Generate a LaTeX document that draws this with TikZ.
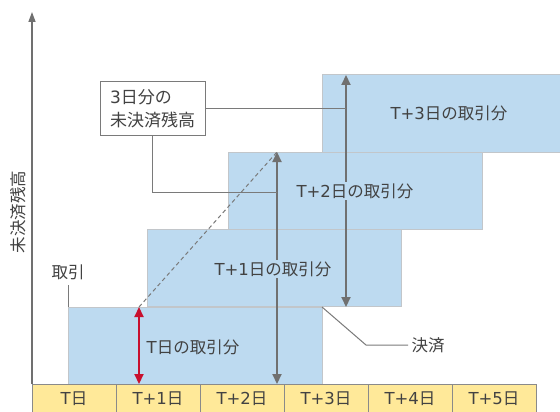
\documentclass[tikz,border=0pt]{standalone}
\usepackage{fontspec}
\setmainfont{Noto Sans CJK JP}
\newfontfamily\latf{DejaVu Sans}
\newcommand\Lt[1]{{\latf #1}}
\usetikzlibrary{arrows.meta}
\definecolor{blk}{HTML}{BDDAF0}
\definecolor{blkline}{HTML}{C2C6CA}
\definecolor{tyel}{HTML}{FFE999}
\definecolor{tline}{HTML}{8A8A8A}
\definecolor{garr}{HTML}{707070}
\definecolor{rarr}{HTML}{C8102E}
\definecolor{txt}{HTML}{424242}
\definecolor{leadc}{HTML}{7A7A7A}
\begin{document}
\begin{tikzpicture}[x=1pt,y=-1pt,
  every node/.style={text=txt, font=\fontsize{16.5}{20}\selectfont},
  block/.style={draw=blkline, fill=blk, line width=1pt, minimum width=254pt, minimum height=77pt, inner sep=0pt, outer sep=0pt},
  blabel/.style={fill=blk, inner sep=1.5pt},
  cell/.style={draw=tline, fill=tyel, line width=1pt, minimum width=84pt, minimum height=30pt, inner sep=0pt, outer sep=0pt},
  garrow/.style={draw=garr, line width=2.2pt, {Triangle[length=10pt,width=9pt]}-{Triangle[length=10pt,width=9pt]}},
  rarrow/.style={draw=rarr, line width=2.2pt, {Triangle[length=10pt,width=9pt]}-{Triangle[length=10pt,width=9pt]}},
  lead/.style={draw=leadc, line width=1pt},
  dline/.style={draw=leadc, line width=1pt, dash pattern=on 4pt off 3pt},
  axisline/.style={draw=garr, line width=1.3pt, -{Triangle[length=10pt,width=7pt]}},
  lbox/.style={draw=leadc, fill=white, line width=1pt, minimum width=105pt, minimum height=53pt, align=left, inner sep=0pt, font=\fontsize{17}{23}\selectfont}
]
\clip (0,0) rectangle (560,412);
\fill[white] (0,0) rectangle (560,412);

% blocks
\node[block] (b0) at (195,345.5) {};
\node[block] (b1) at (274,268) {};
\node[block] (b2) at (355.5,190.5) {};
\node[block] (b3) at (449,113.5) {};

% timeline
\node[cell] (t0) at (74,399) {\Lt{T}日};
\node[cell] (t1) at (158,399) {\Lt{T+1}日};
\node[cell] (t2) at (242,399) {\Lt{T+2}日};
\node[cell] (t3) at (326,399) {\Lt{T+3}日};
\node[cell] (t4) at (410,399) {\Lt{T+4}日};
\node[cell] (t5) at (494,399) {\Lt{T+5}日};

% axis
\coordinate (axtop) at (32,12);
\draw[axisline] (t0.north west) -- (axtop);
\node[rotate=90] (yl) at (18,212) {未決済残高};

% coordinates for arrows
\coordinate (r1top) at (139,307);
\coordinate (r1bot) at (139,384);
\coordinate (a2top) at (277,152);
\coordinate (a2bot) at (277,384);
\coordinate (a3top) at (346,75);
\coordinate (a3bot) at (346,307);

% dashed line
\draw[dline] (r1top) -- (a2top);

% arrows
\draw[garrow] (a2top) -- (a2bot);
\draw[garrow] (a3top) -- (a3bot);
\draw[rarrow] (r1top) -- (r1bot);

% block labels
\node[blabel] (l0) at (193,347) {\Lt{T}日の取引分};
\node[blabel] (l1) at (273,269) {\Lt{T+1}日の取引分};
\node[blabel] (l2) at (355,191) {\Lt{T+2}日の取引分};
\node[blabel] (l3) at (449,113) {\Lt{T+3}日の取引分};

% label box
\node[lbox] (lab) at (152.5,108.5) {\Lt{3}日分の\\未決済残高};
\coordinate (k) at (277,192);
\draw[lead] (lab.east) -- (lab.east -| a3top);
\draw[lead] (lab.south) |- (k);

% 取引
\node (tr) at (68,272) {取引};
\draw[lead] (68,285) -- (b0.north west);

% 決済
\coordinate (kb) at (366,345);
\node[anchor=west] (ks) at (408,345) {決済};
\draw[lead] (b0.north east) -- (kb) -- (ks.west);
\end{tikzpicture}
\end{document}
